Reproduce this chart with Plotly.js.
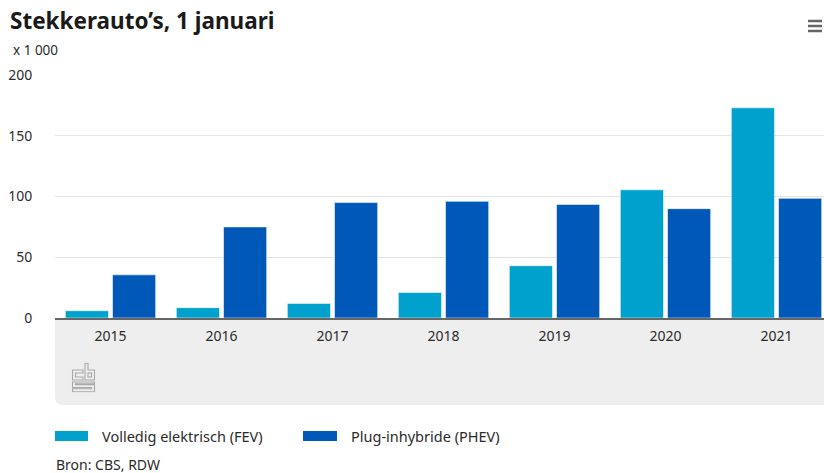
<!DOCTYPE html>
<html>
<head>
<meta charset="utf-8">
<script src="https://cdn.plot.ly/plotly-3.0.1.min.js"></script>
<style>
html,body{margin:0;padding:0;overflow:hidden;background:#fff;}
#chart{width:832px;height:473px;}
</style>
</head>
<body>
<div id="chart"></div>
<script>
// ---- data ----
const years = ['2015','2016','2017','2018','2019','2020','2021'];
const fev  = [6, 8.5, 12, 21, 43, 105.5, 173];
const phev = [35.5, 75, 95, 96, 93.5, 90, 98.5];
const seriesNames = ['Volledig elektrisch (FEV)', 'Plug-inhybride (PHEV)'];
const seriesColors = ['#00a1cd', '#0058b8'];
const yTicks = [0, 50, 100, 150, 200];
const titleText = 'Stekkerauto’s, 1 januari';
const unitText = 'x 1 000';
const sourceText = 'Bron: CBS, RDW';

// ---- layout geometry ----
const W = 832, H = 473, L = 55, R = 0, T = 75, B = 155;
const PW = W - L - R, PH = H - T - B;
const fx = x => (x - L) / PW;          // pixel x -> paper
const fy = y => (H - B - y) / PH;      // pixel y -> paper
const FONT = '"Noto Sans", "Open Sans", sans-serif';
const TXT = '#2b2b2b';

const traces = [
  {type:'bar', name: seriesNames[0], x: years, y: fev,
   marker:{color: seriesColors[0], line:{color:'rgba(255,255,255,0.55)', width:1}},
   showlegend:false, hoverinfo:'x+y'},
  {type:'bar', name: seriesNames[1], x: years, y: phev,
   marker:{color: seriesColors[1], line:{color:'rgba(255,255,255,0.55)', width:1}},
   showlegend:false, hoverinfo:'x+y'}
];

// gray band below axis with rounded bottom-left corner
const gy0 = fy(405), rx = 8 / PW, ry = 8 / PH;
const shapes = [
  {type:'path', xref:'paper', yref:'paper', layer:'below',
   path:`M 0,0 L 1,0 L 1,${gy0} L ${rx},${gy0} Q 0,${gy0} 0,${gy0 + ry} Z`,
   fillcolor:'#eeeeee', line:{width:0}}
];
// hamburger menu
[21, 26, 31].forEach(y => shapes.push({type:'line', xref:'paper', yref:'paper',
  x0: fx(808), x1: fx(822), y0: fy(y), y1: fy(y), line:{color:'#666666', width:2.5}}));
// legend swatches
const swX = [[55, 88], [303, 337]];
swX.forEach((s, i) => shapes.push({type:'rect', xref:'paper', yref:'paper',
  x0: fx(s[0]), x1: fx(s[1]), y0: fy(441), y1: fy(431),
  fillcolor: seriesColors[i], line:{width:0}}));

const annotations = [
  {text: unitText, xref:'paper', yref:'paper', x: fx(11), y: fy(50), xanchor:'left', yanchor:'middle',
   showarrow:false, font:{family:FONT, size:13.5, color:TXT}},
  {text: sourceText, xref:'paper', yref:'paper', x: fx(54), y: fy(464), xanchor:'left', yanchor:'middle',
   showarrow:false, font:{family:FONT, size:14, color:TXT}},
  {text: seriesNames[0], xref:'paper', yref:'paper', x: fx(100), y: fy(436), xanchor:'left', yanchor:'middle',
   showarrow:false, font:{family:FONT, size:14.5, color:TXT}},
  {text: seriesNames[1], xref:'paper', yref:'paper', x: fx(349), y: fy(436), xanchor:'left', yanchor:'middle',
   showarrow:false, font:{family:FONT, size:14.5, color:TXT}}
];

const logoSvg = '<svg xmlns="http://www.w3.org/2000/svg" width="24" height="30" viewBox="0 0 24 30">' +
  '<g fill="none" stroke="#a8a8a8" stroke-width="1.1" stroke-linejoin="miter">' +
  '<path d="M11.5 7.5 H1 V17.5 H11.5 V14.5 H4 V10.5 H11.5 Z"/>' +
  '<path d="M13.5 0.8 V17.5 H23 V7.5 H16.5 V0.8 Z"/>' +
  '<rect x="16.5" y="10.5" width="3.5" height="4"/>' +
  '<path d="M23 19.5 H1 V25 H20 V26.2 H1 V29.2 H23 V22.3 H4 V21.2 H23 Z"/>' +
  '</g></svg>';

const layout = {
  width: W, height: H,
  margin: {l: L, r: R, t: T, b: B, pad: 0},
  paper_bgcolor: '#ffffff', plot_bgcolor: '#ffffff',
  font: {family: FONT, color: TXT},
  title: {text: titleText, xref:'container', yref:'container', x: 10 / W, xanchor:'left',
          y: 1 - 21 / H, yanchor:'middle',
          font:{family: FONT, size: 22.5, weight: 700, color:'#1a1a1a'}},
  barmode: 'group', bargap: 0.15, bargroupgap: 0.085,
  xaxis: {type:'category', showline:true, linecolor:'#666666', linewidth:2,
          ticks:'outside', ticklen:4, tickcolor:'rgba(0,0,0,0)',
          tickfont:{family:FONT, size:14, color:TXT}, showgrid:false, zeroline:false,
          fixedrange:true},
  yaxis: {range:[0, 200], tickvals: yTicks, ticktext: yTicks.map(String),
          gridcolor:'#e4e4e4', gridwidth:1, zeroline:false, showline:false,
          ticks:'outside', ticklen:19, tickcolor:'rgba(0,0,0,0)',
          tickfont:{family:FONT, size:14, color:TXT}, fixedrange:true},
  shapes: shapes,
  annotations: annotations,
  images: [{source: 'data:image/svg+xml;charset=utf-8,' + encodeURIComponent(logoSvg),
            xref:'paper', yref:'paper', x: fx(71.5), y: fy(362.5), sizex: 24 / PW, sizey: 30 / PH,
            xanchor:'left', yanchor:'top', sizing:'stretch', layer:'above'}],
  showlegend: false
};

Plotly.newPlot('chart', traces, layout, {displayModeBar:false, staticPlot:false, responsive:false});
</script>
</body>
</html>
